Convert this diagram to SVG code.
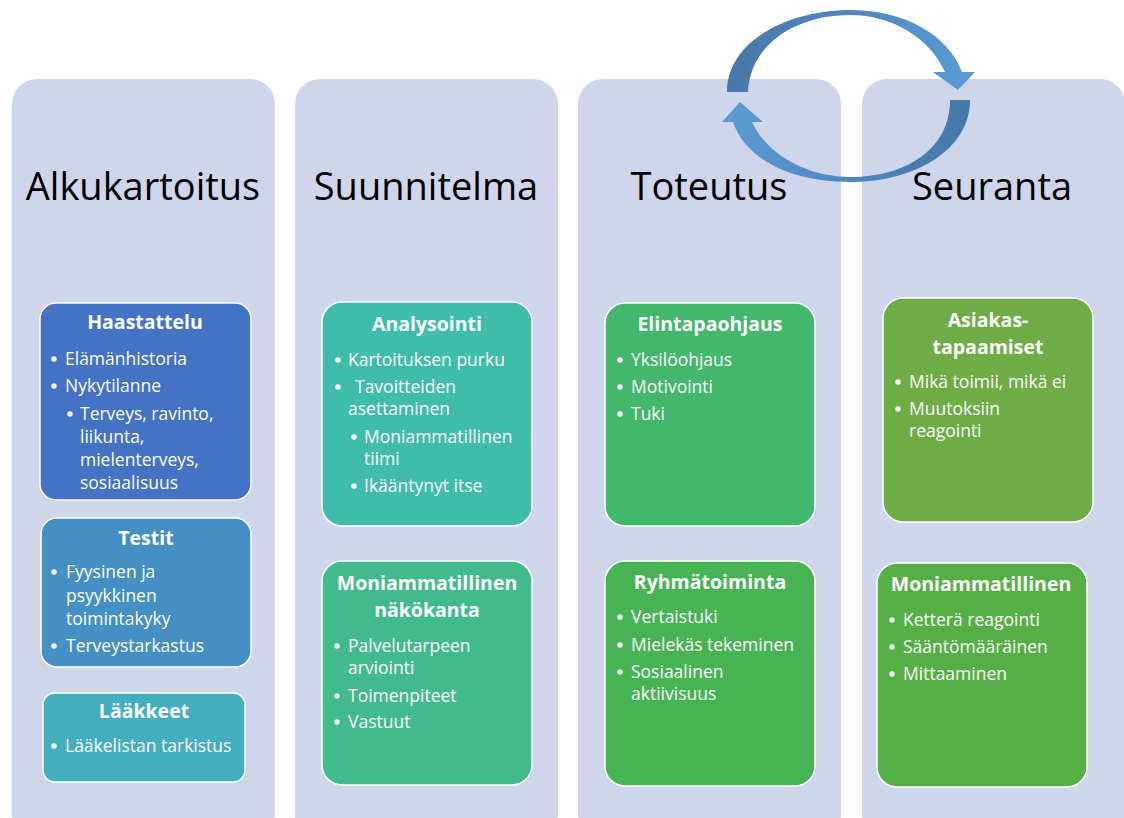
<svg xmlns="http://www.w3.org/2000/svg" width="1124" height="818" viewBox="0 0 1124 818">
<style>
.col{fill:#CFD5EA}
.hd{font-family:"Open Sans","Liberation Sans",sans-serif;font-size:38px;fill:#000;text-anchor:middle}
.box{stroke:#FFFFFF;stroke-width:1.5}
.tt{font-family:"Open Sans","Liberation Sans",sans-serif;font-size:19.5px;font-weight:bold;fill:#FFFFFF;text-anchor:middle}
.it{font-family:"Open Sans","Liberation Sans",sans-serif;font-size:17.5px;fill:#FFFFFF}
.bl{fill:#FFFFFF}
</style>
<defs>
<linearGradient id="gTop" x1="0" y1="0" x2="1" y2="0">
<stop offset="0" stop-color="#4777A8"/>
<stop offset="0.5" stop-color="#4F87C0"/>
<stop offset="1" stop-color="#5B9BD5"/>
</linearGradient>
<linearGradient id="gBot" x1="1" y1="0" x2="0" y2="0">
<stop offset="0" stop-color="#4777A8"/>
<stop offset="0.5" stop-color="#4F87C0"/>
<stop offset="1" stop-color="#5B9BD5"/>
</linearGradient>
</defs>
<rect width="1124" height="818" fill="#FFFFFF"/>

<g id="col-alkukartoitus">
<rect class="col" x="12" y="79" width="263" height="760" rx="25"/>
<text class="hd" x="143" y="200">Alkukartoitus</text>
</g>
<g id="col-suunnitelma">
<rect class="col" x="295" y="79" width="263" height="760" rx="25"/>
<text class="hd" x="426" y="200">Suunnitelma</text>
</g>
<g id="col-toteutus">
<rect class="col" x="578" y="79" width="263" height="760" rx="25"/>
<text class="hd" x="709" y="200">Toteutus</text>
</g>
<g id="col-seuranta">
<rect class="col" x="862" y="79" width="263" height="760" rx="25"/>
<text class="hd" x="992" y="200">Seuranta</text>
</g>

<g id="haastattelu">
<rect class="box" x="40" y="303" width="211" height="197" rx="16" fill="#4472C4"/>
<text class="tt" x="145" y="329">Haastattelu</text>
<circle class="bl" cx="54" cy="359" r="2.7"/><text class="it" x="65" y="365">Elämänhistoria</text>
<circle class="bl" cx="54" cy="386" r="2.7"/><text class="it" x="65" y="392">Nykytilanne</text>
<circle class="bl" cx="70" cy="414" r="2.7"/><text class="it" x="80" y="420">Terveys, ravinto,</text>
<text class="it" x="80" y="443">liikunta,</text>
<text class="it" x="80" y="466">mielenterveys,</text>
<text class="it" x="80" y="489">sosiaalisuus</text>
</g>
<g id="testit">
<rect class="box" x="41" y="518" width="210" height="149" rx="16" fill="#4490C4"/>
<text class="tt" x="146" y="545">Testit</text>
<circle class="bl" cx="54" cy="572" r="2.7"/><text class="it" x="66" y="578">Fyysinen ja</text>
<text class="it" x="66" y="602">psyykkinen</text>
<text class="it" x="66" y="625">toimintakyky</text>
<circle class="bl" cx="54" cy="646" r="2.7"/><text class="it" x="66" y="652">Terveystarkastus</text>
</g>
<g id="laakkeet">
<rect class="box" x="43" y="693" width="202" height="89" rx="12" fill="#43AEC0"/>
<text class="tt" x="144" y="718">Lääkkeet</text>
<circle class="bl" cx="54" cy="746" r="2.7"/><text class="it" x="65" y="752">Lääkelistan tarkistus</text>
</g>

<g id="analysointi">
<rect class="box" x="322" y="302" width="210" height="224" rx="20" fill="#40BCAB"/>
<text class="tt" x="427" y="331">Analysointi</text>
<circle class="bl" cx="338" cy="360" r="2.7"/><text class="it" x="348" y="366">Kartoituksen purku</text>
<circle class="bl" cx="338" cy="387" r="2.7"/><text class="it" x="355" y="393">Tavoitteiden</text>
<text class="it" x="348" y="415">asettaminen</text>
<circle class="bl" cx="354" cy="437" r="2.7"/><text class="it" x="364" y="443">Moniammatillinen</text>
<text class="it" x="364" y="465">tiimi</text>
<circle class="bl" cx="354" cy="486" r="2.7"/><text class="it" x="364" y="492">Ikääntynyt itse</text>
</g>
<g id="moniammatillinen-nakokanta">
<rect class="box" x="322" y="561" width="210" height="224" rx="20" fill="#42BB8C"/>
<text class="tt" x="427" y="590">Moniammatillinen</text>
<text class="tt" x="427" y="617">näkökanta</text>
<circle class="bl" cx="337" cy="646" r="2.7"/><text class="it" x="348" y="652">Palvelutarpeen</text>
<text class="it" x="348" y="674">arviointi</text>
<circle class="bl" cx="337" cy="696" r="2.7"/><text class="it" x="348" y="702">Toimenpiteet</text>
<circle class="bl" cx="337" cy="722" r="2.7"/><text class="it" x="348" y="728">Vastuut</text>
</g>

<g id="elintapaohjaus">
<rect class="box" x="605" y="303" width="210" height="223" rx="20" fill="#43B76C"/>
<text class="tt" x="710" y="331">Elintapaohjaus</text>
<circle class="bl" cx="620" cy="360" r="2.7"/><text class="it" x="631" y="366">Yksilöohjaus</text>
<circle class="bl" cx="620" cy="387" r="2.7"/><text class="it" x="631" y="393">Motivointi</text>
<circle class="bl" cx="620" cy="414" r="2.7"/><text class="it" x="631" y="420">Tuki</text>
</g>
<g id="ryhmatoiminta">
<rect class="box" x="605" y="561" width="210" height="225" rx="20" fill="#47B453"/>
<text class="tt" x="710" y="589">Ryhmätoiminta</text>
<circle class="bl" cx="620" cy="617" r="2.7"/><text class="it" x="631" y="623">Vertaistuki</text>
<circle class="bl" cx="620" cy="645" r="2.7"/><text class="it" x="631" y="651">Mielekäs tekeminen</text>
<circle class="bl" cx="620" cy="672" r="2.7"/><text class="it" x="631" y="678">Sosiaalinen</text>
<text class="it" x="631" y="700">aktiivisuus</text>
</g>

<g id="asiakastapaamiset">
<rect class="box" x="883" y="298" width="210" height="224" rx="20" fill="#6EAC46"/>
<text class="tt" x="988" y="327">Asiakas-</text>
<text class="tt" x="988" y="354">tapaamiset</text>
<circle class="bl" cx="898" cy="382" r="2.7"/><text class="it" x="909" y="388">Mikä toimii, mikä ei</text>
<circle class="bl" cx="898" cy="409" r="2.7"/><text class="it" x="909" y="415">Muutoksiin</text>
<text class="it" x="909" y="437">reagointi</text>
</g>
<g id="moniammatillinen-seuranta">
<rect class="box" x="877" y="563" width="210" height="224" rx="20" fill="#56AF45"/>
<text class="tt" x="981" y="591">Moniammatillinen</text>
<circle class="bl" cx="892" cy="620" r="2.7"/><text class="it" x="903" y="626">Ketterä reagointi</text>
<circle class="bl" cx="892" cy="647" r="2.7"/><text class="it" x="903" y="653">Sääntömääräinen</text>
<circle class="bl" cx="892" cy="674" r="2.7"/><text class="it" x="903" y="680">Mittaaminen</text>
</g>

<g id="connectors">
<path fill="url(#gTop)" d="M727,92 C727,40 790,10 850,10 C905,10 948,35 962,72 L975,72 L958,90 L933,72 L945,72 C930,38 892,15 850,15 C795,15 750,45 748,92 Z"/>
<path fill="url(#gBot)" d="M970,100 C970,150 915,182 850,182 C792,182 746,160 733,122 L722,122 L740,102 L763,122 L752,122 C767,155 808,177 850,177 C905,177 950,150 950,100 Z"/>
</g>
</svg>
